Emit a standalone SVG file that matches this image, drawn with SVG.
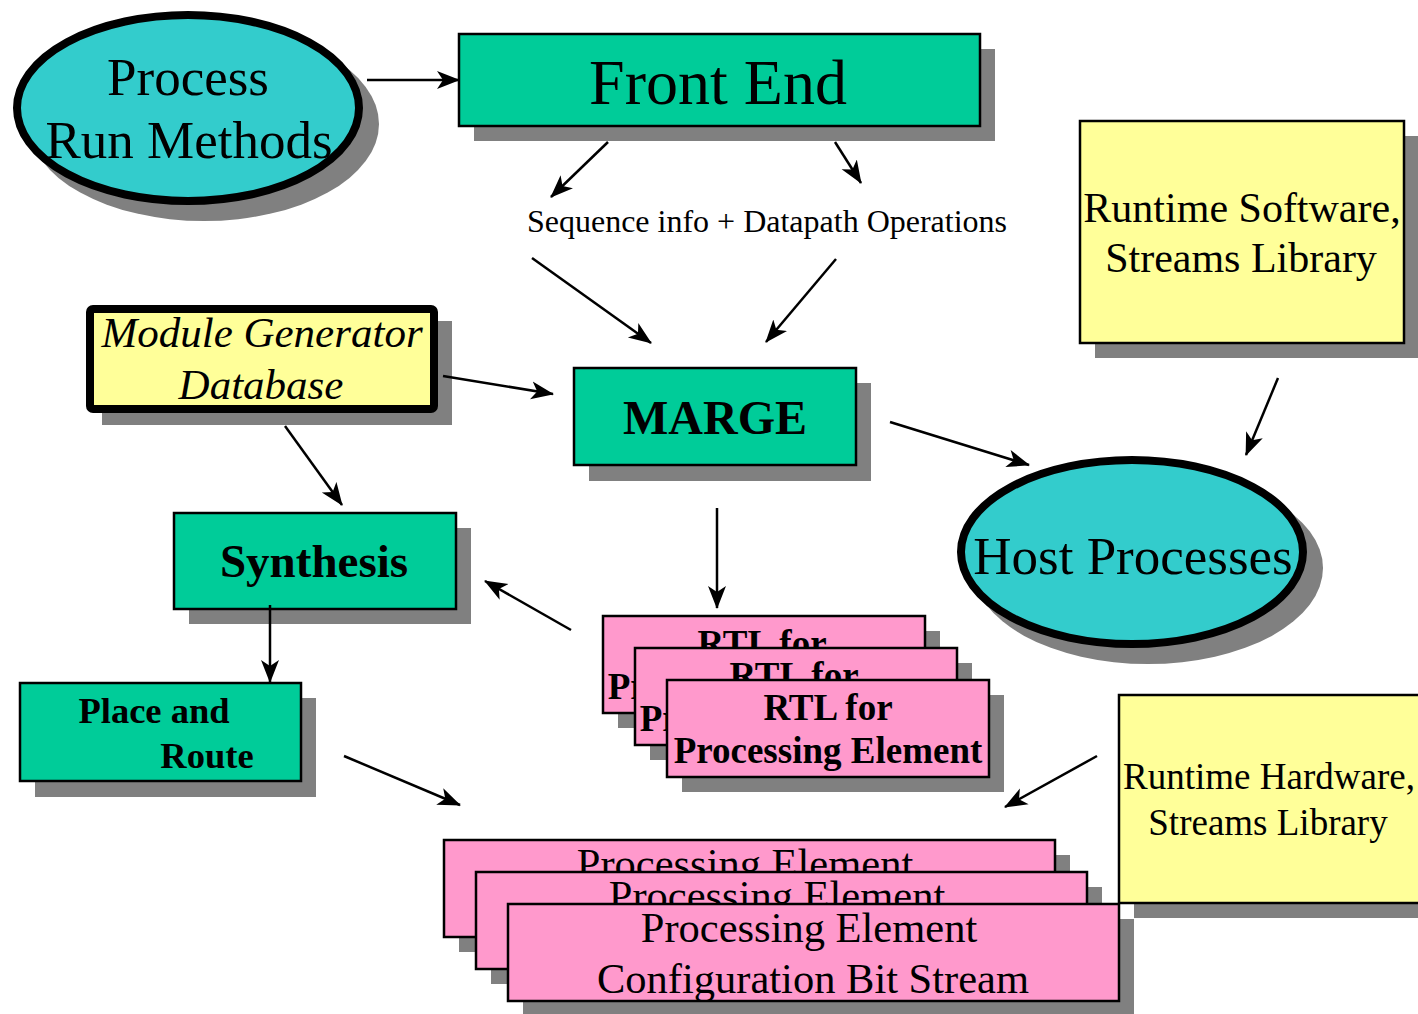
<svg xmlns="http://www.w3.org/2000/svg" width="1418" height="1014" viewBox="0 0 1418 1014">
  <style>
    .shadow { fill: #808080; }
    .green { fill: #00CC99; stroke: #000; stroke-width: 2.5; }
    .yellow { fill: #FFFF99; stroke: #000; stroke-width: 2.5; }
    .pink { fill: #FF99CC; stroke: #000; stroke-width: 2.5; }
    .oval { fill: #33CCCC; stroke: #000; stroke-width: 8; }
    .t { font-family: "Liberation Serif", "Times New Roman", serif; fill: #000; text-anchor: middle; }
    .b { font-weight: bold; }
    .i { font-style: italic; }
    .conn line { stroke: #000; stroke-width: 2.5; marker-end: url(#arrow); }
  </style>
  <defs>
    <marker id="arrow" markerUnits="userSpaceOnUse" markerWidth="24" markerHeight="20" refX="22" refY="10" orient="auto">
      <path d="M0,1 L23,10 L0,19 L6,10 Z" fill="#000"/>
    </marker>
  </defs>
  <rect width="1418" height="1014" fill="#fff"/>

  <!-- Process Run Methods -->
  <g id="process-run-methods">
    <ellipse class="shadow" cx="204" cy="124" rx="175" ry="97"/>
    <ellipse class="oval" cx="188" cy="108" rx="171" ry="93"/>
    <text class="t" x="188" y="95" font-size="53">Process</text>
    <text class="t" x="189" y="158" font-size="53">Run Methods</text>
  </g>

  <!-- Front End -->
  <g id="front-end">
    <rect class="shadow" x="474" y="49" width="521" height="92"/>
    <rect class="green" x="459" y="34" width="521" height="92"/>
    <text class="t" x="718" y="104" font-size="64">Front End</text>
  </g>

  <!-- Runtime Software -->
  <g id="runtime-software">
    <rect class="shadow" x="1095" y="136" width="324" height="222"/>
    <rect class="yellow" x="1080" y="121" width="324" height="222"/>
    <text class="t" x="1242" y="222" font-size="42">Runtime Software,</text>
    <text class="t" x="1241" y="272" font-size="42">Streams Library</text>
  </g>

  <!-- Module Generator Database -->
  <g id="module-generator-database">
    <rect class="shadow" x="102" y="321" width="350" height="104"/>
    <rect x="90" y="309" width="344" height="100" rx="3" fill="#FFFF99" stroke="#000" stroke-width="8"/>
    <text class="t i" x="262" y="347" font-size="43">Module Generator</text>
    <text class="t i" x="261" y="399" font-size="43">Database</text>
  </g>

  <!-- MARGE -->
  <g id="marge">
    <rect class="shadow" x="589" y="383" width="282" height="98"/>
    <rect class="green" x="574" y="368" width="282" height="97"/>
    <text class="t b" x="715" y="434" font-size="48">MARGE</text>
  </g>

  <!-- Host Processes -->
  <g id="host-processes">
    <ellipse class="shadow" cx="1148" cy="568" rx="175" ry="96"/>
    <ellipse class="oval" cx="1132" cy="552" rx="171" ry="92"/>
    <text class="t" x="1133" y="574" font-size="53">Host Processes</text>
  </g>

  <!-- Synthesis -->
  <g id="synthesis">
    <rect class="shadow" x="189" y="528" width="282" height="96"/>
    <rect class="green" x="174" y="513" width="282" height="96"/>
    <text class="t b" x="314" y="577" font-size="47">Synthesis</text>
  </g>

  <!-- Place and Route -->
  <g id="place-and-route">
    <rect class="shadow" x="35" y="698" width="281" height="99"/>
    <rect class="green" x="20" y="683" width="281" height="98"/>
    <text class="t b" x="154" y="723" font-size="36.5">Place and</text>
    <text class="t b" x="207" y="768" font-size="36.5">Route</text>
  </g>

  <!-- RTL for Processing Element (stack of three) -->
  <g id="rtl-stack">
    <rect class="shadow" x="618" y="631" width="322" height="97"/>
    <rect class="pink" x="603" y="616" width="322" height="97"/>
    <text class="t b" x="762" y="656" font-size="37">RTL for</text>
    <text class="t b" x="762" y="699" font-size="37">Processing Element</text>

    <rect class="shadow" x="650" y="663" width="322" height="97"/>
    <rect class="pink" x="635" y="648" width="322" height="97"/>
    <text class="t b" x="794" y="688" font-size="37">RTL for</text>
    <text class="t b" x="794" y="731" font-size="37">Processing Element</text>

    <rect class="shadow" x="682" y="695" width="322" height="97"/>
    <rect class="pink" x="667" y="680" width="322" height="97"/>
    <text class="t b" x="828" y="720" font-size="37">RTL for</text>
    <text class="t b" x="828" y="763" font-size="37">Processing Element</text>
  </g>

  <!-- Processing Element Configuration Bit Stream (stack of three) -->
  <g id="bitstream-stack">
    <rect class="shadow" x="459" y="855" width="611" height="97"/>
    <rect class="pink" x="444" y="840" width="611" height="97"/>
    <text class="t" x="745" y="878" font-size="42.5">Processing Element</text>
    <text class="t" x="749" y="929" font-size="42.5">Configuration Bit Stream</text>

    <rect class="shadow" x="491" y="887" width="611" height="97"/>
    <rect class="pink" x="476" y="872" width="611" height="97"/>
    <text class="t" x="777" y="910" font-size="42.5">Processing Element</text>
    <text class="t" x="781" y="961" font-size="42.5">Configuration Bit Stream</text>

    <rect class="shadow" x="523" y="919" width="611" height="97"/>
    <rect class="pink" x="508" y="904" width="611" height="97"/>
    <text class="t" x="809" y="942" font-size="42.5">Processing Element</text>
    <text class="t" x="813" y="993" font-size="42.5">Configuration Bit Stream</text>
  </g>

  <!-- Runtime Hardware -->
  <g id="runtime-hardware">
    <rect class="shadow" x="1134" y="710" width="300" height="208"/>
    <rect class="yellow" x="1119" y="695" width="310" height="208"/>
    <text class="t" x="1269" y="789" font-size="37">Runtime Hardware,</text>
    <text class="t" x="1268" y="835" font-size="37">Streams Library</text>
  </g>

  <!-- Sequence label -->
  <text id="sequence-label" class="t" x="767" y="232" font-size="32">Sequence info + Datapath Operations</text>

  <!-- Connectors -->
  <g id="connectors" class="conn">
    <line x1="367" y1="80" x2="459" y2="80"/>
    <line x1="608" y1="142" x2="551" y2="197"/>
    <line x1="835" y1="142" x2="861" y2="183"/>
    <line x1="532" y1="258" x2="651" y2="343"/>
    <line x1="836" y1="259" x2="766" y2="342"/>
    <line x1="1278" y1="378" x2="1246" y2="455"/>
    <line x1="443" y1="376" x2="553" y2="394"/>
    <line x1="285" y1="426" x2="342" y2="505"/>
    <line x1="890" y1="422" x2="1029" y2="465"/>
    <line x1="717" y1="508" x2="717" y2="608"/>
    <line x1="571" y1="630" x2="485" y2="581"/>
    <line x1="270" y1="605" x2="270" y2="682"/>
    <line x1="344" y1="756" x2="460" y2="805"/>
    <line x1="1097" y1="756" x2="1005" y2="807"/>
  </g>
</svg>
